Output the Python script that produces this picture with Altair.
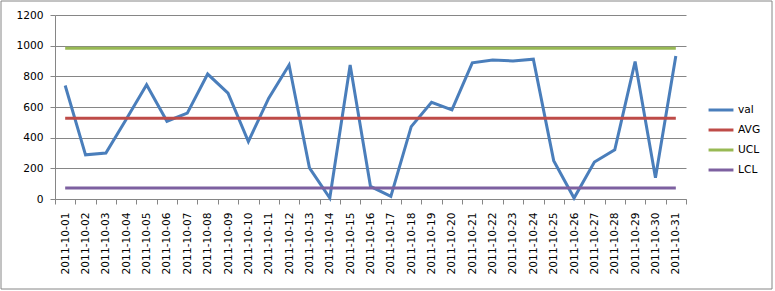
import altair as alt
import pandas as pd

dates = [
    "2011-10-01", "2011-10-02", "2011-10-03", "2011-10-04", "2011-10-05",
    "2011-10-06", "2011-10-07", "2011-10-08", "2011-10-09", "2011-10-10",
    "2011-10-11", "2011-10-12", "2011-10-13", "2011-10-14", "2011-10-15",
    "2011-10-16", "2011-10-17", "2011-10-18", "2011-10-19", "2011-10-20",
    "2011-10-21", "2011-10-22", "2011-10-23", "2011-10-24", "2011-10-25",
    "2011-10-26", "2011-10-27", "2011-10-28", "2011-10-29", "2011-10-30",
    "2011-10-31",
]
val = [740, 288, 300, 520, 745, 507, 560, 815, 690, 375,
       658, 874, 203, 6, 874, 82, 17, 472, 631, 581,
       888, 907, 900, 912, 250, 6, 241, 321, 896, 138, 933]
AVG = 527
UCL = 983
LCL = 72

series_names = ["val", "AVG", "UCL", "LCL"]
series_colors = ["#4A7EBB", "#BE4B48", "#98B954", "#7D60A0"]
y_ticks = [0, 200, 400, 600, 800, 1000, 1200]

rows = []
for d, v in zip(dates, val):
    rows.append({"date": d, "series": "val", "value": v})
for name, c in [("AVG", AVG), ("UCL", UCL), ("LCL", LCL)]:
    for d in dates:
        rows.append({"date": d, "series": name, "value": c})
df = pd.DataFrame(rows)

FONT = "DejaVu Sans"
GRAY = "#868686"

lines = alt.Chart(df).mark_line(strokeWidth=3).encode(
    x=alt.X(
        "date:N",
        sort=dates,
        bandPosition=0.5,
        scale=alt.Scale(type="band", paddingInner=0, paddingOuter=0),
        axis=alt.Axis(
            title=None, labelAngle=270, labelAlign="right", labelBaseline="middle",
            tickBand="extent", tickSize=5, tickColor=GRAY, domainColor=GRAY,
            labelPadding=8, labelFont=FONT, labelFontSize=10.67, labelColor="black",
            grid=False,
        ),
    ),
    y=alt.Y(
        "value:Q",
        scale=alt.Scale(domain=[0, 1200], nice=False),
        axis=alt.Axis(
            title=None, values=y_ticks, format="d", tickSize=5, tickColor=GRAY,
            domainColor=GRAY, gridColor=GRAY, grid=True, labelPadding=7,
            labelFont=FONT, labelFontSize=10.67, labelColor="black",
        ),
    ),
    color=alt.Color(
        "series:N",
        sort=series_names,
        scale=alt.Scale(domain=series_names, range=series_colors),
        legend=alt.Legend(
            title=None, orient="none", legendX=652, legendY=81, padding=0,
            symbolType="stroke", symbolSize=620, symbolStrokeWidth=3,
            labelFont=FONT, labelFontSize=10.67, labelColor="black",
            labelOffset=3, rowPadding=0,
        ),
    ),
    order=alt.value(0),
    detail="series:N",
)

border = alt.Chart(pd.DataFrame({"a": [0]})).mark_rect(
    filled=False, stroke=GRAY, strokeWidth=1
).encode(
    x=alt.value(-54), x2=alt.value(717), y=alt.value(-14), y2=alt.value(274)
)

chart = alt.layer(border, lines).properties(
    width=631,
    height=184,
    padding={"left": 55, "top": 15, "right": 89, "bottom": 92},
    autosize=alt.AutoSizeParams(type="none"),
    background="white",
).configure_view(stroke=None)

chart.save("out.html", embed_options={"renderer": "svg", "actions": False})
